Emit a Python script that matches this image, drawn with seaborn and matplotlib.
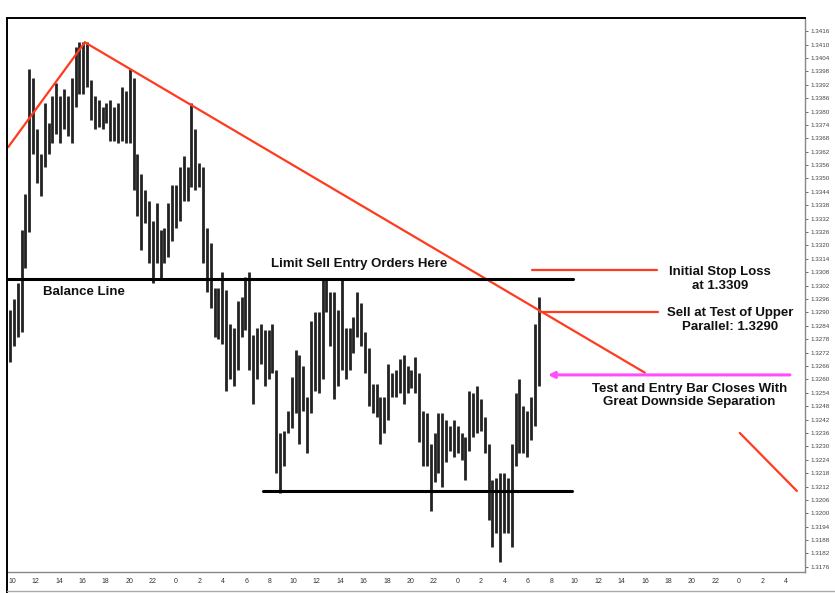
import numpy as np
import pandas as pd
import matplotlib
matplotlib.use("Agg")
import matplotlib.pyplot as plt
from matplotlib.lines import Line2D
import seaborn as sns

# 20-minute bars, high / low prices
highs = [1.3291, 1.3296, 1.3303, 1.3327, 1.3343, 1.3399, 1.3395, 1.3372, 1.3361, 1.3384,
         1.3375, 1.3387, 1.3393, 1.3387, 1.3390, 1.3387, 1.3395, 1.3409, 1.3411, 1.3411,
         1.3411, 1.3394, 1.3387, 1.3385, 1.3382, 1.3384, 1.3385, 1.3382, 1.3384, 1.3391,
         1.3389, 1.3399, 1.3395, 1.3361, 1.3352, 1.3345, 1.3340, 1.3331, 1.3339, 1.3327,
         1.3328, 1.3339, 1.3347, 1.3347, 1.3355, 1.3360, 1.3355, 1.3384, 1.3372, 1.3357,
         1.3355, 1.3328, 1.3321, 1.3301, 1.3301, 1.3308, 1.3300, 1.3285, 1.3283, 1.3295,
         1.3297, 1.3306, 1.3308, 1.3280, 1.3283, 1.3285, 1.3282, 1.3282, 1.3285, 1.3264,
         1.3236, 1.3237, 1.3246, 1.3261, 1.3273, 1.3271, 1.3266, 1.3252, 1.3286, 1.3290,
         1.3290, 1.3305, 1.3305, 1.3299, 1.3299, 1.3291, 1.3305, 1.3283, 1.3283, 1.3288,
         1.3299, 1.3294, 1.3281, 1.3274, 1.3258, 1.3258, 1.3252, 1.3252, 1.3267, 1.3263,
         1.3264, 1.3269, 1.3271, 1.3266, 1.3264, 1.3270, 1.3263, 1.3246, 1.3245, 1.3231,
         1.3236, 1.3245, 1.3245, 1.3242, 1.3239, 1.3242, 1.3239, 1.3236, 1.3234, 1.3255,
         1.3254, 1.3257, 1.3251, 1.3243, 1.3231, 1.3215, 1.3216, 1.3218, 1.3218, 1.3216,
         1.3231, 1.3254, 1.3260, 1.3248, 1.3246, 1.3252, 1.3285, 1.3297]
lows = [1.3268, 1.3275, 1.3279, 1.3281, 1.3310, 1.3326, 1.3361, 1.3348, 1.3342, 1.3355,
        1.3361, 1.3366, 1.3370, 1.3366, 1.3372, 1.3369, 1.3366, 1.3382, 1.3388, 1.3388,
        1.3391, 1.3376, 1.3372, 1.3373, 1.3372, 1.3375, 1.3367, 1.3367, 1.3366, 1.3367,
        1.3366, 1.3366, 1.3345, 1.3333, 1.3318, 1.3330, 1.3312, 1.3303, 1.3312, 1.3305,
        1.3312, 1.3315, 1.3322, 1.3328, 1.3331, 1.3340, 1.3340, 1.3346, 1.3345, 1.3346,
        1.3312, 1.3299, 1.3292, 1.3279, 1.3278, 1.3276, 1.3255, 1.3260, 1.3257, 1.3264,
        1.3279, 1.3282, 1.3264, 1.3249, 1.3260, 1.3267, 1.3257, 1.3260, 1.3263, 1.3218,
        1.3209, 1.3221, 1.3236, 1.3238, 1.3245, 1.3231, 1.3246, 1.3227, 1.3245, 1.3255,
        1.3254, 1.3260, 1.3290, 1.3275, 1.3251, 1.3257, 1.3264, 1.3260, 1.3264, 1.3272,
        1.3279, 1.3275, 1.3263, 1.3248, 1.3245, 1.3243, 1.3231, 1.3236, 1.3242, 1.3252,
        1.3252, 1.3254, 1.3249, 1.3254, 1.3256, 1.3254, 1.3232, 1.3221, 1.3221, 1.3201,
        1.3214, 1.3218, 1.3212, 1.3223, 1.3228, 1.3225, 1.3227, 1.3224, 1.3215, 1.3228,
        1.3234, 1.3236, 1.3237, 1.3227, 1.3197, 1.3185, 1.3191, 1.3178, 1.3191, 1.3191,
        1.3185, 1.3221, 1.3227, 1.3227, 1.3225, 1.3233, 1.3239, 1.3257]

hour_labels = ["10", "12", "14", "16", "18", "20", "22", "0", "2", "4", "6", "8",
               "10", "12", "14", "16", "18", "20", "22", "0", "2", "4", "6", "8",
               "10", "12", "14", "16", "18", "20", "22", "0", "2", "4"]

# trend lines (bar index, price)
up_line_x = [-0.5, 19.4]
up_line_y = [1.3364, 1.3411]
down_line_x = [19.4, 164.5]
down_line_y = [1.3411, 1.3263]
channel_x = [189.1, 203.9]
channel_y = [1.3236, 1.3210]

balance_price = 1.3305
balance_x = [-0.8, 145.9]
support_price = 1.3210
support_x = [65.5, 145.6]
stop_price = 1.3309
stop_x = [135.2, 167.6]
sell_price = 1.3290
sell_x = [137.3, 167.9]
arrow_price = 1.3262
arrow_x = [139.4, 202.1]

bars = pd.DataFrame({"bar": np.arange(len(highs)), "high": highs, "low": lows})

sns.set_style("white")
plt.rcParams["font.family"] = ["Liberation Sans", "DejaVu Sans"]

fig = plt.figure(figsize=(8.35, 5.93), dpi=100)
ax = fig.add_axes([7 / 835, 1 - 572 / 593, 798 / 835, 554 / 593])

ax.vlines(bars["bar"], bars["low"], bars["high"], color="#222222", lw=2.0)

red = "#ff3b1f"
sns.lineplot(x=up_line_x, y=up_line_y, color=red, lw=1.6, ax=ax)
sns.lineplot(x=down_line_x, y=down_line_y, color=red, lw=1.6, ax=ax)
sns.lineplot(x=channel_x, y=channel_y, color=red, lw=1.6, ax=ax)
ax.plot(stop_x, [stop_price] * 2, color=red, lw=1.6)
ax.plot(sell_x, [sell_price] * 2, color=red, lw=1.6)

ax.plot(balance_x, [balance_price] * 2, color="black", lw=2.2)
ax.plot(support_x, [support_price] * 2, color="black", lw=2.2)

ax.annotate("", xy=(arrow_x[0], arrow_price), xytext=(arrow_x[1], arrow_price),
            arrowprops=dict(arrowstyle="-|>", color="#ff4dff", lw=2.2,
                            mutation_scale=9, shrinkA=0, shrinkB=0))

txt = dict(fontsize=9.5, fontweight="bold", color="#111111")
ax.text(90.5, 1.33117, "Limit Sell Entry Orders Here", ha="center", va="center", **txt)
ax.text(8.5, 1.32990, "Balance Line", ha="left", va="center", **txt)
ax.text(184, 1.33048, "Initial Stop Loss\nat 1.3309", ha="center", va="center",
        linespacing=1.2, **txt)
ax.text(186.5, 1.32866, "Sell at Test of Upper\nParallel: 1.3290", ha="center", va="center",
        linespacing=1.2, **txt)
ax.text(176, 1.32528, "Test and Entry Bar Closes With\nGreat Downside Separation",
        ha="center", va="center", linespacing=1.2, **txt)

ax.set_xlim(-0.78, 206)
ax.set_ylim(1.31737, 1.34219)

tick_pos = [(2 + 23.45 * k) / 3.86 for k in range(len(hour_labels))]
ax.set_xticks(tick_pos)
ax.set_xticklabels(hour_labels, fontsize=5, color="#333333")

yt = np.arange(1.3176, 1.3420, 0.0006)
ax.yaxis.tick_right()
ax.set_yticks(yt)
ax.set_yticklabels([f"{v:.4f}" for v in yt], fontsize=4.5, color="#444444")
ax.tick_params(axis="both", length=2.5, width=0.6, color="#555555", pad=1.5)

for side in ["left", "top"]:
    ax.spines[side].set_color("black")
    ax.spines[side].set_linewidth(1.4)
for side in ["right", "bottom"]:
    ax.spines[side].set_color("#888888")
    ax.spines[side].set_linewidth(1.0)

# outer frame of the screenshot below the axis labels
fig.add_artist(Line2D([7 / 835, 7 / 835], [0, 1 - 572 / 593], color="black", lw=1.4))
fig.add_artist(Line2D([7 / 835, 1], [2 / 593, 2 / 593], color="#aaaaaa", lw=1.0))

fig.savefig("out.png", dpi=100)
